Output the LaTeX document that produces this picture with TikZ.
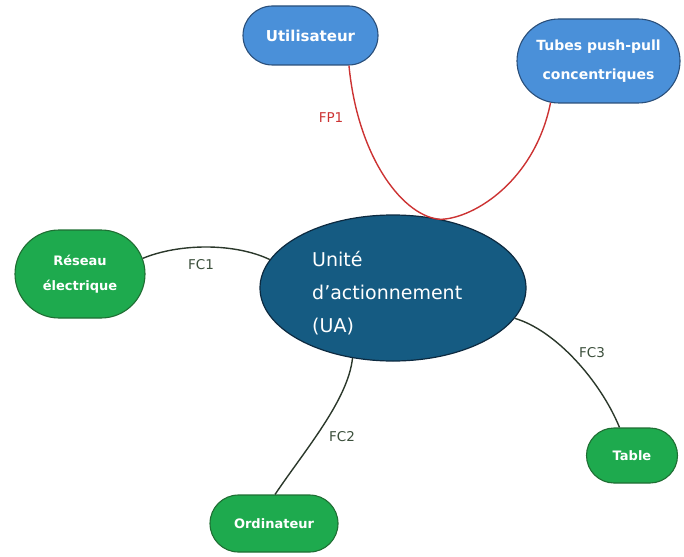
\documentclass[tikz,border=0pt]{standalone}
\usepackage{fontspec}
\setmainfont{DejaVu Sans}
\usetikzlibrary{shapes.geometric,shapes.misc}
\definecolor{bluefill}{HTML}{4A90D9}
\definecolor{blueline}{HTML}{2A4F7A}
\definecolor{greenfill}{HTML}{1EAA4E}
\definecolor{greenline}{HTML}{1F6E33}
\definecolor{uafill}{HTML}{155B82}
\definecolor{ualine}{HTML}{0D2A40}
\definecolor{fpred}{HTML}{CC3333}
\definecolor{fcline}{HTML}{2B382B}
\definecolor{fctext}{HTML}{3B4F3B}
\tikzset{
  pill/.style={rounded rectangle, draw, line width=1.1pt, inner sep=0pt, text=white, align=center, font=\bfseries\fontsize{13}{16}\selectfont},
  bluepill/.style={pill, fill=bluefill, draw=blueline},
  greenpill/.style={pill, fill=greenfill, draw=greenline},
  fcconn/.style={draw=fcline, line width=1.4pt},
  fpconn/.style={draw=fpred, line width=1.4pt},
  fclabel/.style={text=fctext, font=\fontsize{13.5}{15}\selectfont, inner sep=0pt},
  fplabel/.style={text=fpred, font=\fontsize{13.5}{15}\selectfont, inner sep=0pt}
}
\begin{document}
\begin{tikzpicture}[x=1pt,y=-1pt]
\useasboundingbox (0,0) rectangle (684,556);
% nodes
\node[bluepill, minimum width=135pt, minimum height=59pt, font=\bfseries\fontsize{15}{18}\selectfont] (util) at (310.5,35.5) {Utilisateur};
\node[bluepill, minimum width=163pt, minimum height=84pt, font=\bfseries\fontsize{14}{29}\selectfont] (tubes) at (598.5,61) {Tubes push-pull\\concentriques};
\node[ellipse, draw=ualine, fill=uafill, line width=1.2pt, minimum width=266pt, minimum height=146pt, inner sep=0pt] (ua) at (393,288) {};
\node[anchor=west, inner sep=0pt, text=white, align=left, font=\fontsize{19}{33}\selectfont] (uatext) at (312,293) {Unité\\d’actionnement\\(UA)};
\node[greenpill, minimum width=130pt, minimum height=88pt, font=\bfseries\fontsize{13}{25}\selectfont] (reseau) at (80,274) {Réseau\\électrique};
\node[greenpill, minimum width=128pt, minimum height=57pt] (ord) at (274,523.5) {Ordinateur};
\node[greenpill, minimum width=91pt, minimum height=55pt] (table) at (632,455.5) {Table};
% connectors
\draw[fpconn] (util.-38) .. controls (358,160) and (405,218) .. (ua.55)
  .. controls (475,218) and (535,180) .. (tubes.221);
\draw[fcconn] (reseau.14) .. controls (180,243) and (235,243) .. (ua.167);
\draw[fcconn] (ua.240) .. controls (348,400) and (305,450) .. (ord.88);
\draw[fcconn] (ua.-14) .. controls (555,330) and (600,380) .. (table.114);
% labels
\node[fplabel] (fp1) at (331,117.5) {FP1};
\node[fclabel] (fc1) at (201,265) {FC1};
\node[fclabel] (fc2) at (342,437) {FC2};
\node[fclabel] (fc3) at (592,353) {FC3};
\end{tikzpicture}
\end{document}
